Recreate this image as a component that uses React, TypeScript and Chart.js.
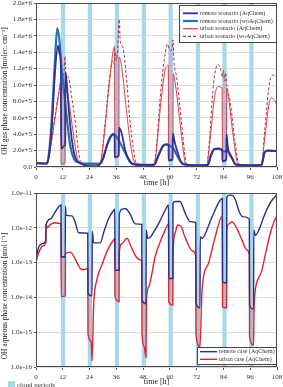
import React, { useEffect, useRef } from 'react';
import { Chart, registerables } from 'chart.js';

Chart.register(...registerables);

type Pair = [number, number];

const SERIF = "'Liberation Serif', 'Times New Roman', Times, serif";
const BAND = '#a9d7ea';
const SHADE = 'rgba(170,172,198,0.55)';

// axis ticks
const timeTicks = [0, 12, 24, 36, 48, 60, 72, 84, 96, 108];
const gasTicks = [0, 2e5, 4e5, 6e5, 8e5, 1e6, 1.2e6, 1.4e6, 1.6e6, 1.8e6, 2e6];
const aqTicks = [1e-16, 1e-15, 1e-14, 1e-13, 1e-12, 1e-11];

// cloud periods [start h, end h]
const cloudPeriods: Pair[] = [
  [11.2, 13.1], [23.2, 25.1], [35.3, 37.2], [47.4, 49.3],
  [59.4, 61.3], [71.6, 73.5], [83.5, 85.4], [95.6, 97.5],
];

// OH gas phase [molec. cm-3], [h, value]
const remoteAqGas: Pair[] = [
  [0, 5e4], [4.5, 4e4], [5.5, 9e4], [7, 4.5e5], [8.5, 1.15e6], [9.9, 1.48e6], [10.6, 1.38e6], [11.2, 1.15e6],
  [11.25, 2.2e5], [12.8, 2.6e5], [13.1, 2.7e5], [13.15, 1.16e6], [13.6, 1.08e6], [15, 6.0e5], [16.5, 2.5e5],
  [18, 9e4], [19.8, 5e4], [22, 2e4], [24, 1e4], [27, 1e4], [28.5, 3e4], [30, 1.0e5], [32, 2.8e5], [34, 3.9e5],
  [35.2, 4.0e5], [35.3, 1.2e5], [37.1, 1.4e5], [37.2, 4.8e5], [38.5, 4.0e5], [40, 2.0e5], [42, 7e4], [43.5, 3.5e4],
  [48, 2.5e4], [53, 3e4], [55, 1.5e5], [57, 2.6e5], [58.5, 2.75e5], [59.4, 2.65e5], [59.45, 8e4], [61.2, 9e4],
  [61.3, 4.1e5], [62, 3.2e5], [63.2, 2.0e5], [65, 6e4], [66, 3.5e4], [72, 2e4], [77, 2.5e4], [78.5, 1.5e5],
  [80, 2.2e5], [82, 2.25e5], [83.5, 2.1e5], [83.55, 7e4], [85.3, 9e4], [85.4, 4.0e5], [86, 2.3e5], [88, 1.0e5],
  [89.5, 3e4], [96, 2e4], [101, 2.5e4], [102.5, 1.8e5], [104, 2.0e5], [108, 1.95e5],
];
const remoteWoGas: Pair[] = [
  [0, 5e4], [4.5, 4e4], [5.5, 1.0e5], [7, 5.5e5], [8.5, 1.3e6], [9.5, 1.69e6], [10.5, 1.55e6], [11.5, 1.2e6],
  [12.8, 8.6e5], [14, 5.5e5], [15.4, 2.5e5], [17, 1.0e5], [18.4, 6e4], [24, 4e4], [28.5, 4e4], [30, 1.0e5],
  [32, 2.8e5], [34, 3.9e5], [35, 4.0e5], [36, 3.7e5], [38, 2.8e5], [40, 1.7e5], [42, 7e4], [43.5, 3.5e4],
  [48, 2.5e4], [53, 3e4], [55, 1.5e5], [57, 2.6e5], [58.5, 2.75e5], [60, 2.6e5], [61.5, 2.3e5], [63, 1.5e5],
  [65, 6e4], [66, 3.5e4], [72, 2e4], [77, 2.5e4], [78.5, 1.5e5], [80, 2.2e5], [82, 2.25e5], [83, 2.1e5],
  [84, 1.9e5], [86, 1.9e5], [88, 1.0e5], [89.5, 3e4], [96, 2e4], [101, 2.5e4], [102.5, 1.8e5], [104, 2.0e5],
  [108, 1.95e5],
];
const urbanAqGas: Pair[] = [
  [0, 4e4], [4.5, 4.5e4], [5.2, 6e4], [8, 5.0e5], [10, 8.6e5], [11.1, 1.03e6], [11.25, 3.5e4], [13, 5e4],
  [13.1, 8.8e5], [13.8, 9.2e5], [15, 7.5e5], [16.5, 4.5e5], [18, 1.8e5], [19.5, 4e4], [24, 3e4], [28, 3e4],
  [29, 6e4], [31, 5e5], [33, 1.05e6], [35.2, 1.47e6], [35.35, 1.1e5], [37.1, 1.3e5], [37.25, 1.34e6],
  [38.5, 1.2e6], [40.5, 7e5], [42.5, 2.5e5], [44.5, 4e4], [48, 3e4], [52.5, 3e4], [53.5, 1e5], [56, 8e5],
  [58, 1.2e6], [59.3, 1.24e6], [59.45, 9e4], [61.3, 1.0e5], [61.5, 1.14e6], [62.5, 1.0e6], [64.5, 5.5e5],
  [66, 2e5], [67, 4e4], [72, 2e4], [76.5, 2e4], [77.5, 2e5], [80, 8.5e5], [81.5, 9.8e5], [83.4, 9.6e5],
  [83.55, 8e4], [85.3, 9e4], [85.45, 9.6e5], [86.5, 8e5], [88.5, 3.5e5], [90.5, 4e4], [96, 2e4], [101, 2e4],
  [102.5, 3.5e5], [104.5, 7.8e5], [105.5, 8.4e5], [107, 8.1e5], [108, 7.5e5],
];
const urbanWoGas: Pair[] = [
  [0, 4e4], [4.5, 4.5e4], [5.2, 6e4], [8, 5.2e5], [10, 8.8e5], [11.5, 1.08e6], [12.5, 1.15e6], [13, 1.35e6],
  [13.3, 1.15e6], [14.5, 1.1e6], [16, 8.5e5], [17.6, 5.5e5], [19, 2.0e5], [20.3, 4e4], [24, 3e4], [28, 3e4],
  [29, 7e4], [31, 5.5e5], [33, 1.1e6], [34.5, 1.3e6], [35, 1.25e6], [35.5, 1.4e6], [36, 1.3e6], [36.6, 1.45e6],
  [37.3, 1.8e6], [37.7, 1.55e6], [39, 1.45e6], [40.5, 1.1e6], [42, 6e5], [43.5, 2.5e5], [45, 4e4], [48, 3e4],
  [52.5, 3e4], [53.5, 1.2e5], [56, 9.5e5], [58, 1.4e6], [59, 1.5e6], [60, 1.42e6], [61, 1.45e6], [61.4, 1.55e6],
  [61.8, 1.3e6], [63, 1.1e6], [65, 6e5], [66.5, 2e5], [67.5, 3e4], [72, 2e4], [76.5, 2e4], [77.5, 2.5e5],
  [79.5, 1.0e6], [81.5, 1.25e6], [82.5, 1.22e6], [83.5, 1.1e6], [84, 1.18e6], [84.5, 1.05e6], [85, 1.15e6],
  [85.5, 1.0e6], [87, 8e5], [89, 3.5e5], [91, 3e4], [96, 2e4], [101, 2e4], [102.5, 4.5e5], [104.5, 1.0e6],
  [106, 1.12e6], [107, 1.12e6], [108, 1.07e6],
];

// OH aqueous phase [mol l-1], [h, value]
const remoteAqAqueous: Pair[] = [
  [0, 1.9e-12], [0.1, 1.6e-13], [1.2, 2.8e-13], [3, 3.5e-13], [4.4, 4.4e-13], [4.5, 1.2e-12], [6.5, 1.8e-12],
  [8.5, 2.8e-12], [11.2, 4.5e-12], [11.3, 1.5e-13], [13.1, 1.45e-13], [13.2, 4.2e-12], [13.5, 2.3e-12],
  [16.1, 2.2e-12], [17.5, 1.5e-12], [19.1, 7.2e-13], [23.2, 7e-13], [23.3, 1.3e-14], [25.1, 1.1e-14],
  [25.2, 8e-13], [25.8, 3.7e-13], [28.8, 3.7e-13], [30.5, 8e-13], [32.5, 1.8e-12], [34.8, 3.2e-12],
  [35.3, 3.4e-12], [35.4, 6e-14], [37.2, 6e-14], [37.3, 2.3e-12], [38.5, 3.4e-12], [40, 3.6e-12],
  [42, 2.6e-12], [44.5, 1.3e-12], [47.4, 1.25e-12], [47.5, 8.3e-15], [49.3, 6.6e-15], [49.4, 8.7e-13],
  [50, 5e-13], [51.3, 5.5e-13], [53, 8e-13], [54.9, 1.3e-12], [57.9, 3.2e-12], [59.4, 4.5e-12],
  [59.5, 3.5e-14], [61.3, 3.5e-14], [61.4, 5e-12], [62.4, 5.7e-12], [64.5, 5.7e-12], [66.9, 2.6e-12],
  [69.1, 1.5e-12], [71.6, 1.4e-12], [71.7, 6.7e-15], [73.5, 5e-15], [73.6, 5.5e-13], [74.5, 5e-13],
  [76, 7e-13], [78, 1.5e-12], [80, 3e-12], [82, 5.5e-12], [83.5, 7e-12], [83.6, 2.8e-14], [85.4, 2.6e-14],
  [85.5, 7.5e-12], [86.5, 8.7e-12], [88, 8.5e-12], [89.5, 6e-12], [91, 3e-12], [92.5, 2.1e-12],
  [95.6, 1.8e-12], [95.7, 6e-15], [97.5, 4.6e-15], [97.6, 8.7e-13], [98.3, 6e-13], [100, 9e-13],
  [102, 2e-12], [104, 4e-12], [106, 6.5e-12], [108, 9e-12],
];
const urbanAqAqueous: Pair[] = [
  [0, 1.05e-13], [1.3, 2e-13], [3, 3e-13], [4.4, 3.6e-13], [4.5, 1.3e-12], [5, 1.0e-12], [6.5, 1.25e-12],
  [8.6, 1.4e-12], [10, 1.35e-12], [11.2, 1.3e-12], [11.3, 1.05e-14], [13.1, 1.1e-14], [13.2, 1.8e-13],
  [15.4, 2e-13], [17.5, 1.3e-13], [19.8, 6.8e-14], [21.3, 6.2e-14], [23.2, 6.8e-14], [23.3, 9e-16],
  [24.7, 5.5e-16], [25.15, 1.5e-16], [25.8, 5.4e-15], [27.3, 3.2e-14], [29.5, 8.5e-14], [32.5, 2.6e-13],
  [34.8, 4.5e-13], [35.3, 5e-13], [35.4, 1.05e-14], [37.2, 7.5e-15], [37.3, 1.8e-13], [38.5, 3.5e-13],
  [40.8, 5e-13], [42.5, 3e-13], [44.5, 1.6e-13], [46.7, 1.2e-13], [47.4, 1.15e-13], [47.5, 9e-16],
  [48.5, 3.8e-16], [49.3, 1.9e-16], [49.5, 8e-15], [50.5, 2e-14], [53.4, 1.5e-13], [56, 4.5e-13],
  [57.9, 8.7e-13], [59.4, 1.3e-12], [59.5, 7.4e-15], [61.3, 6e-15], [61.4, 1.5e-13], [62.3, 7e-13],
  [63.5, 1.2e-12], [65, 1.1e-12], [66.5, 6e-13], [68, 3.5e-13], [70, 2.2e-13], [71.6, 1.6e-13],
  [71.7, 9e-16], [73.5, 3.8e-16], [74.4, 1.6e-14], [77.3, 9.5e-14], [80.3, 5.5e-13], [83.5, 2.2e-12],
  [83.6, 5.4e-15], [85.4, 5e-15], [85.5, 8.7e-13], [86.5, 1.3e-12], [87.8, 1.5e-12], [89.5, 1.1e-12],
  [92.3, 4.5e-13], [94.5, 2.3e-13], [95.6, 1.65e-13], [95.7, 7.4e-16], [97.5, 4.3e-16], [97.7, 4e-15],
  [98.5, 2e-14], [99.4, 3.2e-14], [101.2, 6e-14], [103, 2e-13], [105, 7e-13], [107, 1.7e-12], [108, 2.2e-12],
];

const xy = (s: Pair[]) => s.map(([x, y]) => ({ x, y }));

type P = { x: number; y: number };
function interp(pts: P[], px: number): number {
  if (px <= pts[0].x) return pts[0].y;
  for (let i = 1; i < pts.length; i++) {
    if (px <= pts[i].x) {
      const a = pts[i - 1];
      const b = pts[i];
      const t = b.x === a.x ? 1 : (px - a.x) / (b.x - a.x);
      return a.y + t * (b.y - a.y);
    }
  }
  return pts[pts.length - 1].y;
}

// cloud bands behind the lines, plus shading between paired series inside each cloud
function cloudLayer(pairs: Pair[]) {
  return {
    id: 'cloudLayer',
    beforeDatasetsDraw(chart: any) {
      const { ctx, chartArea: a } = chart;
      const xs = chart.scales.x;
      ctx.save();
      ctx.beginPath();
      ctx.rect(a.left, a.top, a.right - a.left, a.bottom - a.top);
      ctx.clip();
      ctx.fillStyle = BAND;
      for (const [s, e] of cloudPeriods) {
        const x0 = xs.getPixelForValue(s);
        const x1 = xs.getPixelForValue(e);
        ctx.fillRect(x0, a.top, x1 - x0, a.bottom - a.top);
      }
      ctx.fillStyle = SHADE;
      for (const [i, j] of pairs) {
        const A = chart.getDatasetMeta(i).data as P[];
        const B = chart.getDatasetMeta(j).data as P[];
        for (const [s, e] of cloudPeriods) {
          const x0 = xs.getPixelForValue(s);
          const x1 = xs.getPixelForValue(e);
          const px: number[] = [x0, x1];
          for (const p of [...A, ...B]) if (p.x > x0 && p.x < x1) px.push(p.x);
          for (let k = 1; k < 10; k++) px.push(x0 + ((x1 - x0) * k) / 10);
          px.sort((m, n) => m - n);
          ctx.beginPath();
          px.forEach((x, k) => (k ? ctx.lineTo(x, interp(A, x)) : ctx.moveTo(x, interp(A, x))));
          for (let k = px.length - 1; k >= 0; k--) ctx.lineTo(px[k], interp(B, px[k]));
          ctx.closePath();
          ctx.fill();
        }
      }
      ctx.restore();
    },
  };
}

type DecorCfg = {
  title: string;
  titleX: number;
  titleY: number;
  box: [number, number, number, number];
  rows: number[];
  lineX: [number, number];
  textX: number;
  cloudKey?: [number, number];
};

// frame, rotated axis title, legend box and cloud key
function decor(cfg: DecorCfg) {
  return {
    id: 'decor',
    afterDraw(chart: any) {
      const { ctx, chartArea: a } = chart;
      ctx.save();
      ctx.strokeStyle = '#4d4d4d';
      ctx.lineWidth = 1;
      ctx.strokeRect(a.left + 0.5, a.top + 0.5, a.right - a.left - 1, a.bottom - a.top - 1);

      ctx.fillStyle = '#222';
      ctx.font = `7.5px ${SERIF}`;
      ctx.textAlign = 'center';
      ctx.textBaseline = 'middle';
      ctx.translate(cfg.titleX, cfg.titleY);
      ctx.rotate(-Math.PI / 2);
      ctx.fillText(cfg.title, 0, 0);
      ctx.setTransform(1, 0, 0, 1, 0, 0);

      const [bx0, by0, bx1, by1] = cfg.box;
      ctx.fillStyle = '#fff';
      ctx.fillRect(bx0, by0, bx1 - bx0, by1 - by0);
      ctx.strokeStyle = '#444';
      ctx.strokeRect(bx0 + 0.5, by0 + 0.5, bx1 - bx0 - 1, by1 - by0 - 1);
      ctx.font = `6px ${SERIF}`;
      ctx.textAlign = 'left';
      chart.data.datasets.forEach((ds: any, k: number) => {
        const y = cfg.rows[k];
        ctx.strokeStyle = ds.borderColor;
        ctx.lineWidth = Math.max(1.2, ds.borderWidth);
        ctx.setLineDash(ds.borderDash || []);
        ctx.beginPath();
        ctx.moveTo(cfg.lineX[0], y);
        ctx.lineTo(cfg.lineX[1], y);
        ctx.stroke();
        ctx.setLineDash([]);
        ctx.fillStyle = '#333';
        ctx.fillText(ds.label, cfg.textX, y);
      });

      if (cfg.cloudKey) {
        const [kx, ky] = cfg.cloudKey;
        ctx.fillStyle = BAND;
        ctx.fillRect(kx, ky, 7, 6);
        ctx.fillStyle = '#333';
        ctx.font = `7px ${SERIF}`;
        ctx.fillText('cloud periods', kx + 9, ky + 4);
      }
      ctx.restore();
    },
  };
}

const tickFont = { family: SERIF, size: 7 };

function xScale(height: number, titlePadBottom: number) {
  return {
    type: 'linear',
    min: 0,
    max: 108,
    afterBuildTicks: (s: any) => {
      s.ticks = timeTicks.map((v) => ({ value: v }));
    },
    afterFit: (s: any) => {
      s.height = height;
      s.paddingLeft = 0;
      s.paddingRight = 0;
    },
    grid: { drawOnChartArea: false, tickLength: 3, color: '#555' },
    border: { display: false },
    ticks: { font: tickFont, color: '#333', padding: 3, autoSkip: false, maxRotation: 0, callback: (v: any) => String(v) },
    title: { display: true, text: 'time [h]', font: { family: SERIF, size: 8 }, color: '#222', padding: { top: 0, bottom: titlePadBottom } },
  };
}

function yFit(s: any) {
  s.width = 36;
  s.paddingTop = 0;
  s.paddingBottom = 0;
}

function GasChart() {
  const ref = useRef<HTMLCanvasElement>(null);
  useEffect(() => {
    const chart = new Chart(ref.current as HTMLCanvasElement, {
      type: 'line',
      data: {
        datasets: [
          { label: 'remote scenario (AqChem)', data: xy(remoteAqGas), borderColor: '#3c2d8e', borderWidth: 1.8 },
          { label: 'remote scenario (woAqChem)', data: xy(remoteWoGas), borderColor: '#2472b6', borderWidth: 2.2 },
          { label: 'urban scenario (AqChem)', data: xy(urbanAqGas), borderColor: '#e23c44', borderWidth: 1 },
          { label: 'urban scenario (woAqChem)', data: xy(urbanWoGas), borderColor: '#a8323e', borderWidth: 1, borderDash: [3, 2] },
        ],
      } as any,
      options: {
        responsive: false,
        animation: false,
        layout: { padding: { top: 3, right: 6, bottom: 0, left: 0 } },
        elements: { point: { radius: 0 }, line: { cubicInterpolationMode: 'monotone', fill: false } },
        plugins: { legend: { display: false }, tooltip: { enabled: false } },
        scales: {
          x: xScale(23, 2) as any,
          y: {
            type: 'linear',
            min: 0,
            max: 2e6,
            afterBuildTicks: (s: any) => {
              s.ticks = gasTicks.map((v) => ({ value: v }));
            },
            afterFit: yFit,
            grid: { color: '#dcdcdc', tickLength: 2, tickColor: '#555' },
            border: { display: false },
            ticks: { font: tickFont, color: '#333', padding: 2, autoSkip: false, callback: (v: any) => (Number(v) === 0 ? '0.0' : Number(v).toExponential(1)) },
          },
        },
      } as any,
      plugins: [
        cloudLayer([[0, 1], [2, 3]]),
        decor({
          title: 'OH gas phase concentration [molec. cm⁻³]',
          titleX: 5,
          titleY: 91,
          box: [179, 5, 277, 43],
          rows: [13.3, 21, 28.7, 36.4],
          lineX: [183, 198],
          textX: 200,
        }),
      ],
    });
    return () => chart.destroy();
  }, []);
  return <canvas ref={ref} width={283} height={190} style={{ display: 'block' }} />;
}

function AqueousChart() {
  const ref = useRef<HTMLCanvasElement>(null);
  useEffect(() => {
    const chart = new Chart(ref.current as HTMLCanvasElement, {
      type: 'line',
      data: {
        datasets: [
          { label: 'remote case (AqChem)', data: xy(remoteAqAqueous), borderColor: '#2d2e8a', borderWidth: 1.4 },
          { label: 'urban case (AqChem)', data: xy(urbanAqAqueous), borderColor: '#e4232c', borderWidth: 1.4 },
        ],
      } as any,
      options: {
        responsive: false,
        animation: false,
        layout: { padding: { top: 3, right: 6, bottom: 0, left: 0 } },
        elements: { point: { radius: 0 }, line: { cubicInterpolationMode: 'monotone', fill: false } },
        plugins: { legend: { display: false }, tooltip: { enabled: false } },
        scales: {
          x: xScale(20, 0) as any,
          y: {
            type: 'logarithmic',
            min: 1e-16,
            max: 1e-11,
            afterBuildTicks: (s: any) => {
              s.ticks = aqTicks.map((v) => ({ value: v }));
            },
            afterFit: yFit,
            grid: { color: '#dcdcdc', tickLength: 2, tickColor: '#555' },
            border: { display: false },
            ticks: { font: tickFont, color: '#333', padding: 2, autoSkip: false, callback: (v: any) => Number(v).toExponential(1) },
          },
        },
      } as any,
      plugins: [
        cloudLayer([[0, 1]]),
        decor({
          title: 'OH aqueous phase concentration [mol l⁻¹]',
          titleX: 5,
          titleY: 106,
          box: [197, 157, 277, 175],
          rows: [161.7, 169.3],
          lineX: [200, 217],
          textX: 219,
          cloudKey: [8, 191],
        }),
      ],
    });
    return () => chart.destroy();
  }, []);
  return <canvas ref={ref} width={283} height={197} style={{ display: 'block' }} />;
}

export default function App() {
  return (
    <div style={{ position: 'absolute', left: 0, top: 0, width: 283, height: 387, background: '#fff', overflow: 'hidden' }}>
      <GasChart />
      <AqueousChart />
    </div>
  );
}
